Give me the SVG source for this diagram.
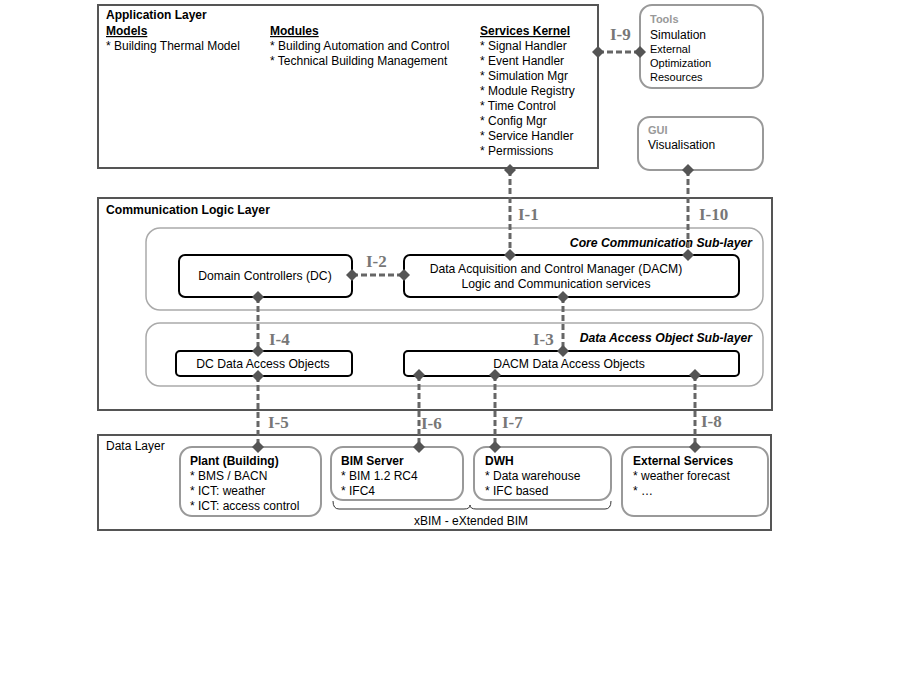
<svg xmlns="http://www.w3.org/2000/svg" width="901" height="682" viewBox="0 0 901 682">
<defs>
<style>
text{font-family:"Liberation Sans",Arial,sans-serif;fill:#000}
.t12{font-size:12px}
.t11{font-size:11px}
.tc{font-size:12.2px}
.b{font-weight:bold}
.u{text-decoration:underline}
.g{fill:#999}
.lbl{font-family:"Liberation Serif","Times New Roman",serif;font-weight:bold;font-size:17px;fill:#777}
.layer{fill:none;stroke:#555;stroke-width:2}
.sub{fill:none;stroke:#aaa;stroke-width:1.5}
.rbox{fill:#fff;stroke:#999;stroke-width:2}
.bbox{fill:#fff;stroke:#000;stroke-width:2}
.dash{fill:none;stroke:#666;stroke-width:3;stroke-dasharray:6 3}
.dm{fill:#555}
</style>
<path id="dia" d="M0,-6 L6,0 L0,6 L-6,0 Z"/>
</defs>
<rect width="901" height="682" fill="#fff"/>
<g id="application-layer">
<rect class="layer" x="98" y="5" width="500" height="163"/>
<text class="t12 b" x="106" y="19">Application Layer</text>
<text class="t12 b u" x="106" y="35">Models</text>
<text class="t12" x="106" y="50">* Building Thermal Model</text>
<text class="t12 b u" x="270" y="35">Modules</text>
<text class="t12" x="270" y="50">* Building Automation and Control</text>
<text class="t12" x="270" y="65">* Technical Building Management</text>
<text class="t12 b u" x="480" y="35">Services Kernel</text>
<text class="t12" x="480" y="50">* Signal Handler</text>
<text class="t12" x="480" y="65">* Event Handler</text>
<text class="t12" x="480" y="80">* Simulation Mgr</text>
<text class="t12" x="480" y="95">* Module Registry</text>
<text class="t12" x="480" y="110">* Time Control</text>
<text class="t12" x="480" y="125">* Config Mgr</text>
<text class="t12" x="480" y="140">* Service Handler</text>
<text class="t12" x="480" y="155">* Permissions</text>
</g>
<g id="tools">
<rect class="rbox" x="640" y="5" width="123" height="83" rx="12"/>
<text class="t11 b g" x="650" y="23">Tools</text>
<text class="t12" x="650" y="39">Simulation</text>
<text class="t11" x="650" y="53">External</text>
<text class="t11" x="650" y="67">Optimization</text>
<text class="t11" x="650" y="81">Resources</text>
</g>
<g id="gui">
<rect class="rbox" x="638" y="117" width="125" height="53" rx="12"/>
<text class="t11 b g" x="648" y="134">GUI</text>
<text class="t12" x="648" y="149">Visualisation</text>
</g>
<g id="communication-logic-layer">
<rect class="layer" x="98" y="198" width="674" height="212"/>
<text class="tc b" x="106" y="214">Communication  Logic Layer</text>
</g>
<g id="core-sublayer">
<rect class="sub" x="146" y="228" width="617" height="82" rx="14"/>
<text class="tc b" font-style="italic" x="752" y="247" text-anchor="end">Core Communication  Sub-layer</text>
</g>
<g id="dao-sublayer">
<rect class="sub" x="146" y="323" width="617" height="63" rx="14"/>
<text class="tc b" font-style="italic" x="752" y="342" text-anchor="end">Data Access Object Sub-layer</text>
</g>
<g id="dc">
<rect class="bbox" x="179" y="255" width="173" height="42" rx="6"/>
<text class="tc" x="265" y="280" text-anchor="middle">Domain Controllers (DC)</text>
</g>
<g id="dacm">
<rect class="bbox" x="404" y="255" width="335" height="42" rx="6"/>
<text class="tc" x="556" y="273" text-anchor="middle">Data Acquisition and Control Manager (DACM)</text>
<text class="tc" x="556" y="288" text-anchor="middle">Logic and Communication services</text>
</g>
<g id="dc-dao">
<rect class="bbox" x="176" y="351" width="176" height="25" rx="4"/>
<text class="tc" x="263" y="368" text-anchor="middle">DC Data Access Objects</text>
</g>
<g id="dacm-dao">
<rect class="bbox" x="404" y="351" width="335" height="25" rx="4"/>
<text class="tc" x="569" y="368" text-anchor="middle">DACM Data Access Objects</text>
</g>
<g id="data-layer">
<rect class="layer" x="98" y="435" width="673" height="95"/>
<text class="t12" x="106" y="450">Data Layer</text>
</g>
<g id="plant">
<rect class="rbox" x="180" y="447" width="141" height="69" rx="12"/>
<text class="t12 b" x="190" y="465">Plant (Building)</text>
<text class="t12" x="190" y="480">* BMS / BACN</text>
<text class="t12" x="190" y="495">* ICT: weather</text>
<text class="t12" x="190" y="510">* ICT: access control</text>
</g>
<g id="bim-server">
<rect class="rbox" x="331" y="447" width="132" height="53" rx="12"/>
<text class="t12 b" x="341" y="465">BIM Server</text>
<text class="t12" x="341" y="480">* BIM 1.2 RC4</text>
<text class="t12" x="341" y="495">* IFC4</text>
</g>
<g id="dwh">
<rect class="rbox" x="474" y="447" width="137" height="53" rx="12"/>
<text class="t12 b" x="485" y="465">DWH</text>
<text class="t12" x="485" y="480">* Data warehouse</text>
<text class="t12" x="485" y="495">* IFC based</text>
</g>
<g id="external-services">
<rect class="rbox" x="622" y="447" width="146" height="69" rx="12"/>
<text class="t12 b" x="633" y="465">External Services</text>
<text class="t12" x="633" y="480">* weather forecast</text>
<text class="t12" x="633" y="495">* …</text>
</g>
<g id="xbim">
<path d="M333,501 Q333,509 339,509 L464,509 Q470,509 470,505 Q470,509 476,509 L605,509 Q611,509 611,501" fill="none" stroke="#333" stroke-width="1"/>
<text class="t12" x="471" y="525" text-anchor="middle">xBIM  - eXtended BIM</text>
</g>
<g id="connectors">
<line class="dash" x1="598" y1="52" x2="640" y2="52"/>
<line class="dash" x1="510" y1="170" x2="510" y2="255"/>
<line class="dash" x1="688" y1="170" x2="688" y2="255"/>
<line class="dash" x1="352" y1="275" x2="404" y2="275"/>
<line class="dash" x1="563" y1="297" x2="563" y2="351"/>
<line class="dash" x1="258" y1="297" x2="258" y2="351"/>
<line class="dash" x1="258" y1="376" x2="258" y2="447"/>
<line class="dash" x1="419" y1="375" x2="419" y2="447"/>
<line class="dash" x1="495" y1="375" x2="495" y2="447"/>
<line class="dash" x1="695" y1="375" x2="695" y2="447"/>
<use href="#dia" class="dm" x="598" y="52"/>
<use href="#dia" class="dm" x="640" y="52"/>
<use href="#dia" class="dm" x="510" y="170"/>
<use href="#dia" class="dm" x="688" y="170"/>
<use href="#dia" class="dm" x="510" y="255"/>
<use href="#dia" class="dm" x="688" y="255"/>
<use href="#dia" class="dm" x="352" y="275"/>
<use href="#dia" class="dm" x="404" y="275"/>
<use href="#dia" class="dm" x="563" y="297"/>
<use href="#dia" class="dm" x="563" y="351"/>
<use href="#dia" class="dm" x="258" y="297"/>
<use href="#dia" class="dm" x="258" y="351"/>
<use href="#dia" class="dm" x="258" y="376"/>
<use href="#dia" class="dm" x="419" y="375"/>
<use href="#dia" class="dm" x="495" y="375"/>
<use href="#dia" class="dm" x="695" y="375"/>
<use href="#dia" class="dm" x="258" y="447"/>
<use href="#dia" class="dm" x="419" y="447"/>
<use href="#dia" class="dm" x="495" y="447"/>
<use href="#dia" class="dm" x="695" y="447"/>
<text class="lbl" x="610" y="40">I-9</text>
<text class="lbl" x="518" y="220">I-1</text>
<text class="lbl" x="699" y="220">I-10</text>
<text class="lbl" x="366" y="267">I-2</text>
<text class="lbl" x="533" y="345">I-3</text>
<text class="lbl" x="269" y="345">I-4</text>
<text class="lbl" x="268" y="428">I-5</text>
<text class="lbl" x="421" y="429">I-6</text>
<text class="lbl" x="502" y="428">I-7</text>
<text class="lbl" x="701" y="427">I-8</text>
</g>
</svg>
